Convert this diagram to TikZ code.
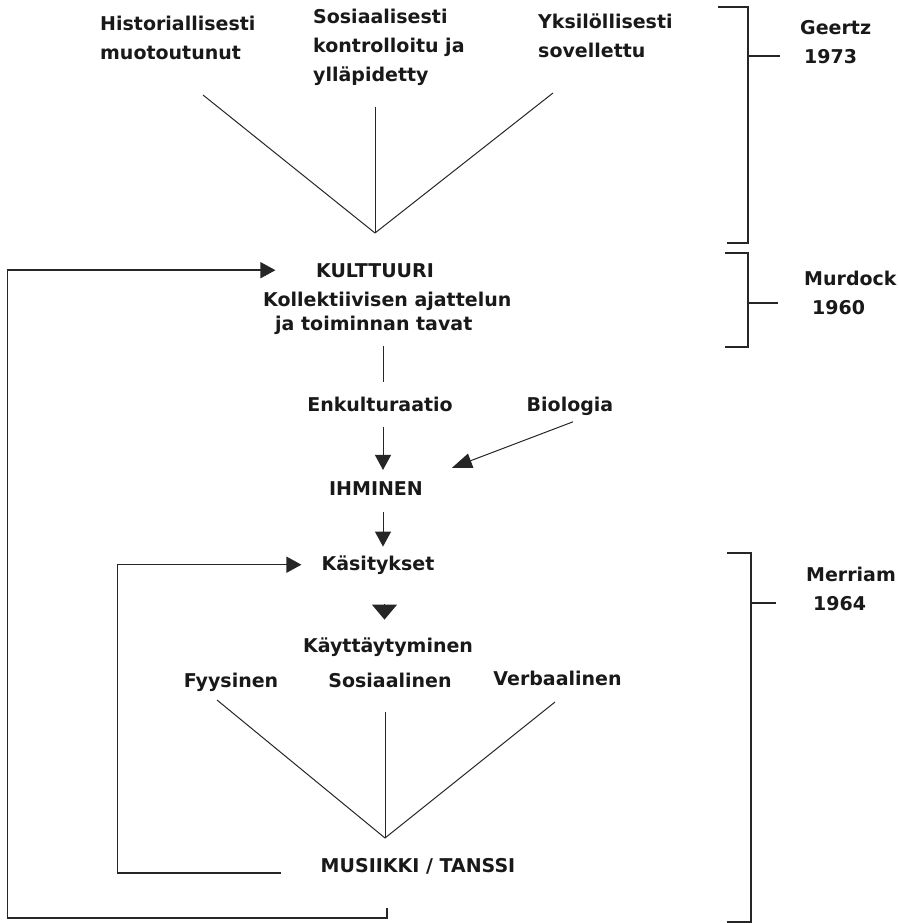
\documentclass[tikz,border=0pt]{standalone}
\usepackage{fontspec}
\newfontfamily\dvsans{DejaVu Sans}
\usetikzlibrary{arrows.meta}
\tikzset{
  lab/.style={font=\dvsans\bfseries\fontsize{19pt}{29pt}\selectfont, inner sep=0pt, align=left, text=black!90},
  arr/.style={-{Triangle[length=15pt,width=16pt]}},
  ln/.style={line width=1pt, draw=black!85},
  loopln/.style={line width=1.5pt, draw=black!85},
  brak/.style={line width=1.3pt, draw=black!85}
}

\begin{document}
\begin{tikzpicture}[x=1pt,y=-1pt]
\useasboundingbox (0,0) rectangle (898,923);
\coordinate (col) at (383,0);

% ylaosa (Geertz)
\node[lab, anchor=north west] (hist) at (100,16) {Historiallisesti\\muotoutunut};
\node[lab, anchor=north west] (sos) at (313,9) {Sosiaalisesti\\kontrolloitu ja\\ylläpidetty};
\node[lab, anchor=north west] (yks) at (538,14) {Yksilöllisesti\\sovellettu};
\coordinate (vtop) at (375,233);
\draw[ln] (vtop) -- ++(-172,-138);
\draw[ln] (vtop) -- ++(0,-126);
\draw[ln] (vtop) -- ++(178,-140);

% kulttuuri
\node[lab, anchor=base] (kult) at (375,277) {KULTTUURI};
\node[lab, anchor=north west, font=\dvsans\bfseries\fontsize{19pt}{24pt}\selectfont] (kultdef) at (263,291.5)
  {Kollektiivisen ajattelun\\\hspace*{12pt}ja toiminnan tavat};
\node[lab, anchor=base] (enk) at (380,411) {Enkulturaatio};
\node[lab, anchor=base] (bio) at (570,411) {Biologia};
\node[lab, anchor=base] (ihm) at (376,495) {IHMINEN};
\draw[ln, shorten <=11.5pt, shorten >=14.5pt] (kultdef.south -| col) -- (enk.north -| col);
\draw[ln, arr, shorten <=16pt, shorten >=11pt] (enk.south -| col) -- (ihm.north -| col);
\draw[ln, -{Triangle[length=20pt,width=15pt]}] (bio.south) ++(3,6.5) -- ++(-121,46);

% Merriam
\node[lab, anchor=base] (kas) at (378,570) {Käsitykset};
\node[lab, anchor=base] (kay) at (388,652) {Käyttäytyminen};
\draw[ln, arr, shorten <=17pt, shorten >=8.5pt] (ihm.south -| col) -- (kas.north -| col);
\draw[ln, -{Triangle[length=15pt,width=25pt]}, shorten <=30pt, shorten >=17.5pt] ([xshift=1.5pt]kas.south -| col) -- ([xshift=1.5pt]kay.north -| col);

\node[lab, anchor=base] (fyy) at (231,687) {Fyysinen};
\node[lab, anchor=base] (sosl) at (390,687) {Sosiaalinen};
\node[lab, anchor=base] (verb) at (557.5,685) {Verbaalinen};
\node[lab, anchor=base] (mus) at (418,872) {MUSIIKKI / TANSSI};
\coordinate (vbot) at (385,838);
\draw[ln] (vbot) -- ++(-168,-138);
\draw[ln] (vbot) -- ++(0,-126);
\draw[ln] (vbot) -- ++(170,-136);

% palautesilmukat
\draw[loopln, arr, shorten >=20pt] (mus.base west) ++(-40,1) -| ([xshift=-204pt]kas.west) -- (kas.west);
\draw[loopln, arr, shorten >=40.5pt] (mus.base) ++(-31,36) -- ++(0,10) -| ([xshift=-308.5pt]kult.west) -- (kult.west);

% sulkeet
\draw[brak] (718,7) -- (748,7) -- (748,243) -- (727,243);
\draw[brak] (748,56) -- (780,56);
\node[lab, anchor=north west] (geertz) at (800,20) {Geertz\\\hspace*{4pt}1973};
\draw[brak] (725,253) -- (748,253) -- (748,347) -- (725,347);
\draw[brak] (748,303) -- (778,303);
\node[lab, anchor=north west] (murdock) at (804,271) {Murdock\\\hspace*{8pt}1960};
\draw[brak] (727,553) -- (751,553) -- (751,922) -- (727,922);
\draw[brak] (751,603) -- (776,603);
\node[lab, anchor=north west] (merriam) at (806,567) {Merriam\\\hspace*{7pt}1964};
\end{tikzpicture}
\end{document}
